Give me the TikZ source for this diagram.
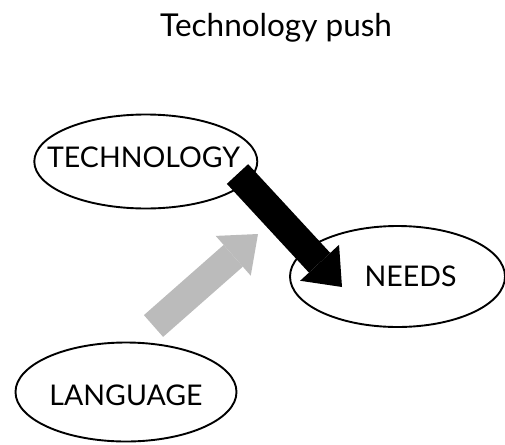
\documentclass[tikz,border=0pt]{standalone}
\usepackage{fontspec}
\setmainfont{Lato}
\usetikzlibrary{arrows.meta,shapes.geometric}
\begin{document}
\begin{tikzpicture}[x=1pt,y=-1pt,
  bubble/.style={draw=black,line width=1.9pt,ellipse,inner sep=0pt},
  lbl/.style={inner sep=0pt,font=\fontsize{28.5}{32}\selectfont},
  push/.style={line width=29pt,-{Triangle[width=53pt,length=33pt,line width=0pt]}}]
\useasboundingbox (0,0) rectangle (505,444);
% title
\node[inner sep=0pt,anchor=base west,font=\fontsize{31.5}{36}\selectfont] (title) at (160,37) {Technology push};
% the three ellipses
\node[bubble,minimum width=223pt,minimum height=94pt] (tech) at (145.8,161.5) {};
\node[bubble,minimum width=215pt,minimum height=101pt] (needs) at (397.5,276.5) {};
\node[bubble,minimum width=221pt,minimum height=99pt] (lang) at (126,392) {};
% their labels
\node[lbl] (techtxt) at (143.5,157.5) {TECHNOLOGY};
\node[lbl] (needstxt) at (410.5,276.5) {NEEDS};
\node[lbl] (langtxt) at (126,395) {LANGUAGE};
% block arrows
\coordinate (techout) at (237.5,174);
\coordinate (needsin) at (342,287);
\coordinate (langout) at (153.5,326);
\coordinate (pushmid) at (258,234);
\draw[push,black] (techout) -- (needsin);
\draw[push,color={rgb,255:red,187;green,187;blue,187}] (langout) -- (pushmid);
\end{tikzpicture}
\end{document}
